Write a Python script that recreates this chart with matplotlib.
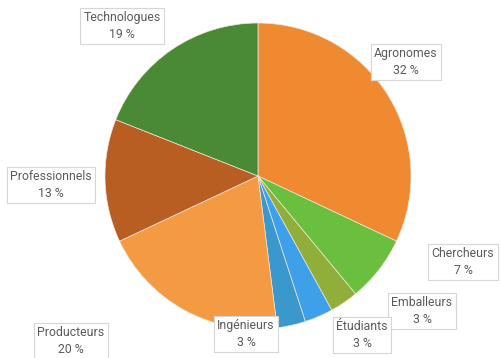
import matplotlib
matplotlib.use("Agg")
import matplotlib.pyplot as plt

# share of each profile, clockwise from the top
categories = ["Agronomes", "Chercheurs", "Emballeurs", "Étudiants",
              "Ingénieurs", "Producteurs", "Professionnels", "Technologues"]
shares = [32, 7, 3, 3, 3, 20, 13, 19]
colors = ["#F08A30", "#6BBF3E", "#8FAE3A", "#3DA0E8",
          "#3A98CC", "#F39A42", "#B85E22", "#4A8A35"]

# label box centres in figure pixels (x from left, y from top)
label_pos = [(406, 62), (463, 262), (422, 311), (362, 335),
             (246, 334), (71, 341), (51, 185), (122, 26)]

W, H = 501, 358
cx, cy, r = 258, 176, 153

plt.rcParams['font.family'] = ['Roboto', 'DejaVu Sans']

fig = plt.figure(figsize=(W / 100, H / 100), dpi=100)
ax = fig.add_axes([(cx - r) / W, (H - cy - r) / H, 2 * r / W, 2 * r / H])
ax.pie(shares, colors=colors, startangle=90, counterclock=False,
       radius=1, wedgeprops=dict(edgecolor='#f0e6dc', linewidth=0.5))
ax.set_xlim(-1, 1)
ax.set_ylim(-1, 1)
ax.set_aspect('equal')
ax.axis('off')

for name, val, (px, py) in zip(categories, shares, label_pos):
    fig.text(px / W, 1 - py / H, "{}\n{} %".format(name, val),
             ha='center', va='center', fontsize=8.8, color='#5a5a5a',
             linespacing=1.35,
             bbox=dict(boxstyle='square,pad=0.3', facecolor='white',
                       edgecolor='#d6d6d6', linewidth=0.8))

fig.savefig("out.png", dpi=100)
